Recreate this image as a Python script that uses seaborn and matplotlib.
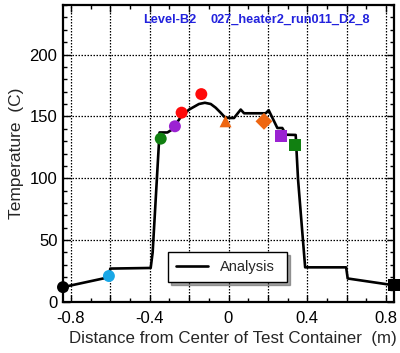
import numpy as np
import pandas as pd
import matplotlib
matplotlib.use("Agg")
import matplotlib.pyplot as plt
from matplotlib.ticker import MultipleLocator, FixedLocator, FuncFormatter
import seaborn as sns

# --- data ---
curve_x = [-0.84, -0.607, -0.600, -0.395, -0.385, -0.350, -0.310, -0.290, -0.270, -0.240,
           -0.200, -0.150, -0.120, -0.090, -0.065, -0.040, -0.020, 0.003, 0.028, 0.062,
           0.079, 0.189, 0.204, 0.248, 0.273, 0.292, 0.341, 0.353, 0.389, 0.597, 0.605, 0.84]
curve_y = [12.0, 20.0, 27.0, 27.5, 40.0, 137.0, 137.0, 139.0, 143.0, 150.0,
           155.5, 160.0, 161.0, 160.0, 157.0, 153.0, 149.5, 148.7, 148.7, 155.5,
           152.5, 152.5, 155.0, 140.6, 140.6, 135.2, 135.0, 99.0, 28.0, 28.0, 19.0, 13.5]

meas_x = [-0.84, -0.607, -0.344, -0.272, -0.238, -0.138, -0.015, 0.180, 0.268, 0.338, 0.84]
meas_y = [12.0, 21.0, 132.0, 142.0, 153.0, 168.0, 146.0, 146.0, 134.0, 126.5, 13.5]
meas_id = ["TC1", "TC2", "TC3", "TC4", "TC5", "TC6", "TC7", "TC8", "TC9", "TC10", "TC11"]
meas_color = ["#000000", "#1aa7e6", "#118011", "#9b22d2", "#ff0a0a", "#ff0a0a",
              "#ee6611", "#ee6611", "#9b22d2", "#118011", "#000000"]
meas_marker = ["o", "o", "o", "o", "o", "o", "^", "D", "s", "s", "s"]

x_ticklabels = ["-0.8", "-0.4", "0", "0.4", "0.8"]
y_ticks = [0, 50, 100, 150, 200]

sns.set_style("ticks")
plt.rcParams['font.family'] = ['Liberation Sans', 'DejaVu Sans']

fig = plt.figure(figsize=(4.0, 3.53), dpi=100)
ax = fig.add_axes([0.1575, 0.1445, 0.8275, 0.8413])

curve = pd.DataFrame({"x": curve_x, "y": curve_y})
sns.lineplot(data=curve, x="x", y="y", color="black", lw=1.9, sort=False,
             label="Analysis", ax=ax, zorder=3)

meas = pd.DataFrame({"x": meas_x, "y": meas_y, "id": meas_id})
sns.scatterplot(data=meas, x="x", y="y", hue="id", style="id",
                palette=dict(zip(meas_id, meas_color)),
                markers=dict(zip(meas_id, meas_marker)),
                s=74, edgecolor="none", legend=False, ax=ax, zorder=4, clip_on=False)

ax.set_xlim(-0.84, 0.84)
ax.set_ylim(0, 240)

ax.xaxis.set_major_locator(MultipleLocator(0.2))
ax.xaxis.set_minor_locator(MultipleLocator(0.1))
lab = {round(float(t), 1): s for t, s in zip([-0.8, -0.4, 0.0, 0.4, 0.8], x_ticklabels)}
ax.xaxis.set_major_formatter(FuncFormatter(lambda v, p: lab.get(round(v, 1) + 0.0, "")))
ax.yaxis.set_major_locator(FixedLocator(y_ticks))
ax.yaxis.set_minor_locator(MultipleLocator(10))

ax.tick_params(which="both", direction="in", top=True, right=True, colors="black")
ax.tick_params(which="major", length=5, width=1, labelsize=12)
ax.tick_params(axis="x", which="major", pad=6.5)
ax.tick_params(axis="y", which="major", pad=4)
ax.tick_params(which="minor", length=3, width=1)

ax.grid(True, which="major", color="black", linestyle=(0, (1.2, 1.2)), lw=0.9)
for sp in ax.spines.values():
    sp.set_linewidth(1.6)
    sp.set_color("black")

ax.set_xlabel("Distance from Center of Test Container  (m)", fontsize=12.2)
ax.xaxis.set_label_coords(0.513, -0.098)
ax.set_ylabel("Temperature  (C)", fontsize=12.5, labelpad=4)

ax.text(0.242, 0.95, "Level-B2", transform=ax.transAxes, color="#2222dd",
        fontsize=9.2, fontweight="bold", ha="left", va="center")
ax.text(0.445, 0.95, "027_heater2_run011_D2_8", transform=ax.transAxes, color="#2222dd",
        fontsize=9.2, fontweight="bold", ha="left", va="center")

leg = ax.legend(loc="lower left", bbox_to_anchor=(0.317, 0.067, 0.36, 0.108), mode="expand",
                fontsize=10.5, frameon=True, fancybox=False, shadow=True,
                handlelength=2.2, borderaxespad=0, borderpad=0.55)
leg.get_frame().set_edgecolor("black")
leg.get_frame().set_linewidth(1.0)
leg.get_frame().set_alpha(1)

fig.savefig("out.png", dpi=100)
